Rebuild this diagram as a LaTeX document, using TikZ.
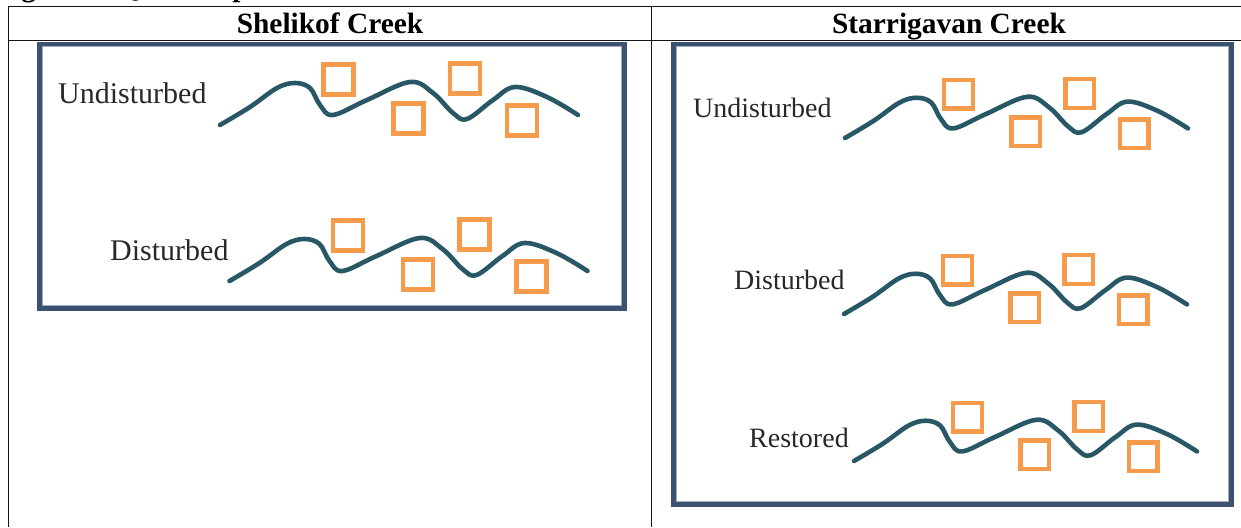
\documentclass[tikz,border=0pt]{standalone}
\usepackage{fontspec}
\setmainfont{Liberation Serif}
\definecolor{rule}{RGB}{20,20,20}
\definecolor{frameblue}{RGB}{58,82,112}
\definecolor{framelight}{RGB}{160,172,190}
\definecolor{streamteal}{RGB}{40,88,102}
\definecolor{quadorange}{RGB}{245,155,75}
\definecolor{labelgray}{RGB}{40,40,40}
\tikzset{
  tablerule/.style={draw=rule, line width=1.3pt},
  panel/.style={draw=frameblue, line width=4.5pt},
  panelinner/.style={draw=framelight, line width=1pt},
  stream/.style={draw=streamteal, line width=4.6pt, line cap=round, line join=round},
  quadrat/.style={draw=quadorange, line width=4.6pt},
  head/.style={inner sep=0pt, anchor=base, font=\fontsize{29.4}{32}\selectfont\bfseries},
  sitelabel/.style={inner sep=0pt, anchor=base west, text=labelgray},
  creek/.pic={
    \draw[stream] plot[smooth, tension=0.6] coordinates {
      (0,0) (30,-18) (57,-37) (75,-42) (90,-37) (100,-20) (113,-10)
      (147,-25) (190,-43) (213,-32) (233,-12) (247,-6)
      (273,-25) (295,-38) (327,-28) (358,-10)};
    \foreach \qx/\qy in {118.5/-45.5, 188.5/-6.5, 245/-46.5, 302/-4.5}
      \draw[quadrat] (\qx-15,\qy-15) rectangle (\qx+15,\qy+15);
  }
}
\begin{document}
\begin{tikzpicture}[x=1pt,y=-1pt]
\useasboundingbox (0,0) rectangle (1241,527);

% caption line above the table, cut by the page edge
\begin{scope}
  \clip (0,0) rectangle (1241,527);
  \node[inner sep=0pt, anchor=base west, font=\fontsize{29.4}{32}\selectfont\bfseries]
    (caption) at (-5,-3) {Figure 1. Quadrat placement};
\end{scope}

% table rules
\coordinate (tTopL) at (8.5,6.5);
\coordinate (tTopR) at (1241,6.5);
\coordinate (tHeadL) at (8.5,40.5);
\coordinate (tHeadR) at (1241,40.5);
\coordinate (tBotL) at (8.5,527);
\coordinate (tMidT) at (651.5,6.5);
\coordinate (tMidB) at (651.5,527);
\draw[tablerule] (tTopL) -- (tTopR);
\draw[tablerule] (tHeadL) -- (tHeadR);
\draw[tablerule] (tTopL) -- (tBotL);
\draw[tablerule] (tMidT) -- (tMidB);

% column headings
\node[head] (hdShelikof) at (330,33.5) {Shelikof Creek};
\node[head] (hdStarrigavan) at (949,33.5) {Starrigavan Creek};

% framed panels
\draw[panel] (39.5,44) rectangle (624.5,308.5);
\draw[panelinner] (42.5,47) rectangle (621.5,305.5);
\draw[panel] (673.5,44) rectangle (1231.5,504.5);
\draw[panelinner] (676.5,47) rectangle (1228.5,501.5);

% Shelikof Creek reaches
\node[sitelabel, font=\fontsize{30}{32}\selectfont] (shU) at (58,103.3) {Undisturbed};
\pic (creekShU) at (220,125) {creek};
\node[sitelabel, font=\fontsize{30}{32}\selectfont] (shD) at (110,260) {Disturbed};
\pic (creekShD) at (229.5,281) {creek};

% Starrigavan Creek reaches
\node[sitelabel, font=\fontsize{28}{30}\selectfont] (stU) at (693,117.3) {Undisturbed};
\pic[scale=0.958] (creekStU) at (845,138) {creek};
\node[sitelabel, font=\fontsize{28}{30}\selectfont] (stD) at (734,289) {Disturbed};
\pic[scale=0.958] (creekStD) at (844,314) {creek};
\node[sitelabel, font=\fontsize{28}{30}\selectfont] (stR) at (749,447) {Restored};
\pic[scale=0.958] (creekStR) at (854,461) {creek};
\end{tikzpicture}
\end{document}
